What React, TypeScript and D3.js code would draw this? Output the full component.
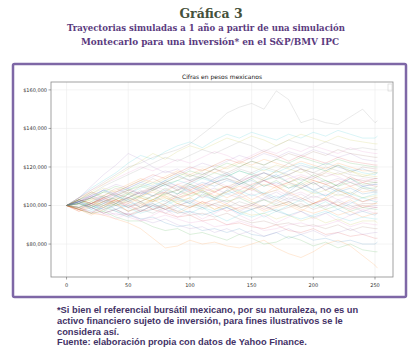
import React from "react";
import * as d3 from "d3";

// Trading days sampled along each simulated path
const DAYS = [0, 10, 20, 30, 40, 50, 60, 70, 80, 90, 100, 110, 120, 130, 140, 150, 160, 170, 180, 190, 200, 210, 220, 230, 240, 250, 252];

// Simulated paths, values in thousands of pesos
const P01 = [100, 101, 99, 96, 98, 95, 93, 94, 91, 89, 90, 87, 88, 86, 88, 85, 84, 86, 83, 85, 82, 83, 81, 82, 80, 80, 81];
const P02 = [100, 98, 96, 95, 93, 91, 88, 83, 78, 79, 82, 80, 81, 79, 78, 80, 82, 78, 75, 73, 76, 80, 82, 79, 74, 69, 67.5];
const P03 = [100, 98, 96, 97, 94, 92, 92, 89, 87, 88, 85, 86, 84, 82, 85, 83, 80, 81, 84, 82, 79, 81, 78, 80, 77, 76, 76];
const P04 = [100, 102, 104, 101, 103, 100, 97, 98, 96, 94, 95, 92, 93, 90, 91, 89, 88, 90, 87, 86, 88, 85, 86, 84, 85, 83, 83];
const P05 = [100, 99, 101, 98, 95, 96, 93, 91, 93, 90, 88, 89, 86, 88, 85, 87, 84, 86, 88, 85, 87, 84, 86, 88, 85, 86, 86];
const P06 = [100, 103, 101, 104, 102, 99, 101, 98, 100, 97, 95, 96, 94, 96, 93, 91, 92, 90, 91, 89, 90, 88, 90, 87, 89, 88, 88];
const P07 = [100, 98, 97, 95, 96, 94, 92, 93, 95, 93, 91, 92, 89, 90, 92, 90, 87, 88, 90, 91, 89, 90, 92, 89, 91, 90, 90];
const P08 = [100, 104, 108, 112, 116, 120, 122, 125, 127, 129, 132, 137, 142, 148, 151, 153, 150, 159.5, 155, 143, 145, 143, 142, 146, 150, 143, 144];
const P09 = [100, 101, 103, 105, 103, 106, 104, 102, 104, 101, 99, 101, 98, 100, 97, 95, 96, 93, 95, 92, 94, 91, 93, 90, 92, 92, 91];
const P10 = [100, 99, 97, 99, 101, 99, 96, 98, 100, 103, 101, 99, 97, 99, 96, 94, 96, 98, 95, 93, 95, 97, 94, 92, 94, 93, 93];
const P11 = [100, 102, 100, 98, 100, 97, 99, 101, 98, 96, 97, 95, 97, 99, 96, 98, 100, 97, 95, 97, 94, 96, 98, 95, 97, 95, 96];
const P12 = [100, 98, 100, 102, 104, 102, 105, 107, 104, 102, 104, 101, 103, 100, 98, 100, 97, 99, 101, 98, 96, 98, 95, 97, 94, 96, 96];
const P13 = [100, 101, 99, 102, 100, 103, 105, 103, 106, 108, 105, 107, 104, 102, 104, 101, 103, 100, 102, 99, 101, 98, 100, 97, 99, 98, 98];
const P14 = [100, 97, 99, 96, 98, 95, 97, 100, 98, 101, 99, 102, 100, 97, 99, 101, 98, 100, 102, 99, 101, 103, 100, 98, 100, 99, 99];
const P15 = [100, 103, 106, 104, 107, 109, 106, 108, 111, 108, 110, 107, 109, 106, 104, 106, 103, 105, 102, 104, 101, 103, 100, 102, 99, 100, 100];
const P16 = [100, 99, 101, 103, 100, 102, 99, 101, 98, 100, 102, 99, 101, 103, 100, 98, 100, 97, 99, 101, 98, 100, 102, 99, 101, 101, 102];
const P17 = [100, 102, 105, 103, 106, 104, 107, 110, 108, 111, 113, 110, 112, 109, 111, 108, 106, 108, 105, 107, 104, 106, 103, 105, 102, 103, 103];
const P18 = [100, 98, 96, 99, 97, 95, 98, 96, 99, 97, 100, 98, 101, 99, 102, 100, 103, 101, 104, 102, 105, 103, 106, 104, 102, 104, 104];
const P19 = [100, 101, 103, 100, 102, 104, 101, 103, 106, 104, 107, 105, 108, 110, 107, 109, 106, 108, 111, 109, 106, 108, 105, 107, 104, 105, 105];
const P20 = [100, 102, 99, 101, 98, 100, 102, 99, 101, 104, 102, 105, 103, 106, 108, 105, 107, 104, 106, 109, 107, 105, 108, 106, 104, 106, 106];
const P21 = [100, 103, 105, 108, 106, 109, 112, 110, 113, 116, 113, 115, 112, 114, 111, 113, 110, 112, 109, 111, 108, 110, 107, 109, 106, 107, 107];
const P22 = [100, 99, 102, 100, 103, 101, 104, 102, 105, 103, 106, 108, 105, 107, 110, 108, 111, 109, 112, 110, 113, 111, 108, 110, 107, 108, 108];
const P23 = [100, 102, 104, 107, 105, 108, 110, 108, 111, 113, 116, 114, 117, 115, 118, 116, 113, 115, 112, 114, 111, 113, 110, 112, 109, 109, 110];
const P24 = [100, 98, 101, 99, 102, 104, 102, 105, 107, 104, 106, 109, 107, 110, 108, 111, 113, 110, 112, 115, 113, 111, 113, 110, 112, 110, 110];
const P25 = [100, 104, 110, 116, 121, 127, 124, 120, 117, 119, 115, 117, 114, 116, 113, 115, 117, 114, 116, 113, 115, 112, 114, 112, 110, 111, 111];
const P26 = [100, 103, 101, 104, 106, 104, 107, 109, 106, 108, 111, 109, 112, 114, 112, 115, 117, 114, 116, 119, 117, 115, 117, 114, 113, 112, 112];
const P27 = [100, 102, 105, 103, 106, 108, 106, 109, 112, 110, 108, 111, 113, 110, 112, 115, 113, 111, 114, 116, 114, 117, 115, 112, 114, 113, 113];
const P28 = [100, 101, 99, 102, 104, 107, 105, 108, 111, 109, 112, 115, 113, 116, 119, 117, 120, 118, 116, 119, 117, 120, 118, 116, 115, 114, 114];
const P29 = [100, 103, 106, 109, 107, 110, 113, 111, 114, 117, 115, 118, 121, 119, 122, 120, 118, 121, 119, 117, 120, 118, 116, 118, 116, 115, 115];
const P30 = [100, 99, 102, 105, 103, 106, 109, 112, 110, 113, 111, 114, 112, 115, 118, 116, 119, 117, 120, 122, 120, 118, 121, 119, 117, 116, 117];
const P31 = [100, 102, 100, 103, 101, 104, 107, 105, 108, 106, 109, 112, 110, 113, 111, 114, 117, 115, 118, 121, 119, 122, 120, 118, 119, 117, 117];
const P32 = [100, 104, 107, 105, 108, 111, 114, 112, 115, 118, 116, 119, 117, 120, 123, 121, 124, 122, 120, 123, 121, 119, 122, 120, 118, 118, 118];
const P33 = [100, 101, 104, 107, 110, 108, 111, 109, 112, 115, 118, 116, 119, 122, 120, 123, 121, 124, 122, 125, 123, 121, 124, 122, 121, 120, 120];
const P34 = [100, 103, 101, 104, 107, 110, 113, 116, 114, 117, 120, 118, 121, 124, 122, 125, 128, 126, 123, 126, 124, 122, 125, 123, 122, 121, 121];
const P35 = [100, 102, 105, 108, 111, 109, 112, 115, 118, 116, 119, 122, 120, 123, 126, 124, 127, 125, 128, 126, 129, 127, 125, 127, 124, 123, 123];
const P36 = [100, 101, 104, 102, 105, 108, 106, 109, 112, 115, 113, 116, 119, 117, 120, 123, 121, 124, 127, 125, 128, 126, 129, 127, 126, 125, 125];
const P37 = [100, 104, 108, 111, 114, 117, 120, 118, 121, 124, 122, 125, 128, 126, 123, 126, 129, 127, 130, 128, 131, 129, 127, 130, 128, 127, 127];
const P38 = [100, 102, 106, 110, 113, 116, 119, 122, 125, 123, 126, 129, 127, 130, 133, 131, 128, 131, 134, 132, 130, 133, 131, 129, 130, 129, 129];
const P39 = [100, 103, 107, 111, 115, 119, 123, 127, 124, 128, 131, 129, 132, 135, 133, 136, 134, 131, 134, 137, 135, 133, 136, 134, 133, 132, 132];
const P40 = [100, 104, 109, 113, 117, 122, 126, 124, 128, 131, 133, 130, 134, 137, 135, 138, 136, 134, 137, 135, 138, 136, 139, 137, 135, 135, 136];
const P41 = [100, 102, 98, 101, 105, 103, 99, 102, 107, 104, 101, 106, 103, 108, 105, 110, 106, 103, 107, 112, 108, 105, 109, 106, 110, 108, 108];
const P42 = [100, 97, 100, 104, 101, 97, 99, 103, 100, 96, 99, 102, 98, 101, 105, 102, 99, 103, 100, 97, 101, 104, 100, 103, 99, 101, 101];
const P43 = [100, 103, 100, 97, 101, 106, 102, 105, 109, 106, 111, 108, 104, 107, 111, 114, 110, 113, 109, 112, 116, 113, 110, 114, 111, 112, 112];
const P44 = [100, 99, 96, 100, 103, 99, 102, 98, 101, 105, 108, 104, 107, 110, 106, 109, 113, 110, 106, 109, 112, 108, 111, 115, 112, 114, 114];
const P45 = [100, 101, 105, 102, 98, 101, 97, 100, 96, 99, 103, 100, 104, 101, 97, 100, 104, 107, 103, 106, 102, 99, 103, 100, 97, 99, 99];
const P46 = [100, 98, 101, 105, 109, 106, 110, 114, 111, 108, 112, 115, 119, 116, 113, 117, 114, 118, 122, 119, 115, 118, 121, 117, 120, 119, 119];
const P47 = [100, 102, 99, 96, 93, 96, 92, 95, 98, 94, 97, 93, 96, 99, 95, 92, 95, 91, 94, 97, 93, 96, 92, 95, 98, 96, 96];
const P48 = [100, 103, 107, 104, 101, 104, 108, 105, 102, 106, 110, 107, 104, 108, 112, 109, 105, 102, 106, 103, 107, 111, 108, 105, 109, 107, 107];
const P49 = [100, 99, 102, 99, 103, 107, 104, 108, 105, 101, 104, 108, 112, 109, 113, 110, 114, 118, 115, 111, 114, 117, 121, 118, 115, 117, 117];
const P50 = [100, 101, 98, 100, 97, 94, 97, 100, 103, 99, 96, 99, 95, 92, 95, 98, 94, 97, 100, 103, 99, 102, 98, 101, 104, 102, 102];
const P51 = [100, 102, 104, 108, 105, 102, 105, 109, 113, 110, 107, 110, 114, 117, 113, 110, 113, 116, 112, 109, 112, 108, 111, 114, 110, 111, 111];
const P52 = [100, 98, 95, 98, 101, 97, 100, 103, 107, 111, 108, 111, 107, 104, 107, 103, 106, 110, 107, 104, 101, 104, 108, 105, 102, 104, 104];

const PATHS = [P01, P02, P03, P04, P05, P06, P07, P08, P09, P10, P11, P12, P13, P14, P15, P16, P17, P18, P19, P20,
  P21, P22, P23, P24, P25, P26, P27, P28, P29, P30, P31, P32, P33, P34, P35, P36, P37, P38, P39, P40,
  P41, P42, P43, P44, P45, P46, P47, P48, P49, P50, P51, P52];

const COLORS = ["#1f77b4", "#ff7f0e", "#2ca02c", "#d62728", "#9467bd", "#8c564b", "#e377c2", "#7f7f7f", "#bcbd22", "#17becf"];

const X_TICKS = [0, 50, 100, 150, 200, 250];
const Y_TICKS = [80, 100, 120, 140, 160];

const TITLE = "Gráfica 3";
const SUBTITLE = ["Trayectorias simuladas a 1 año a partir de una simulación", "Montecarlo para una inversión* en el S&P/BMV IPC"];
const CHART_TITLE = "Cifras en pesos mexicanos";
const NOTES = [
  "*Si bien el referencial bursátil mexicano, por su naturaleza, no es un",
  "activo financiero sujeto de inversión, para fines ilustrativos se le",
  "considera así.",
  "Fuente: elaboración propia con datos de Yahoo Finance.",
];

const W = 420, H = 355;
const PL = 51, PR = 393, PT = 82, PB = 277;

export default function App() {
  const dMin = d3.min(DAYS)!, dMax = d3.max(DAYS)!;
  const dPad = (dMax - dMin) * 0.05;
  const x = d3.scaleLinear().domain([dMin - dPad, dMax + dPad]).range([PL, PR]);
  const vMin = d3.min(PATHS, (p) => d3.min(p)!)!;
  const vMax = d3.max(PATHS, (p) => d3.max(p)!)!;
  const vPad = (vMax - vMin) * 0.05;
  const y = d3.scaleLinear().domain([vMin - vPad, vMax + vPad]).range([PB, PT]);
  const line = d3.line<number>().x((_, i) => x(DAYS[i])).y((v) => y(v));
  const fmt = (v: number) => "$" + d3.format(",")(v * 1000);

  return (
    <svg width={W} height={H} style={{ position: "absolute", left: 0, top: 0, background: "#fff" }}>
      <text x={211} y={18} textAnchor="middle" fontFamily="'DejaVu Serif', serif" fontWeight="bold" fontSize={12.5} fill="#45513b">{TITLE}</text>
      <text x={67} y={31} fontFamily="'DejaVu Serif', serif" fontWeight="bold" fontSize={9.6} fill="#5a3a7e" textLength={278} lengthAdjust="spacingAndGlyphs">{SUBTITLE[0]}</text>
      <text x={81} y={44.5} fontFamily="'DejaVu Serif', serif" fontWeight="bold" fontSize={9.6} fill="#5a3a7e" textLength={258} lengthAdjust="spacingAndGlyphs">{SUBTITLE[1]}</text>
      <rect x={13} y={64} width={393} height={233} fill="#fff" stroke="#7e67a6" strokeWidth={2.5} rx={1.5} />
      <text x={(PL + PR) / 2} y={78.5} textAnchor="middle" fontFamily="'DejaVu Sans', sans-serif" fontSize={6} fill="#111">{CHART_TITLE}</text>
      {/* grid */}
      {X_TICKS.map((t) => (
        <line key={"gx" + t} x1={x(t)} x2={x(t)} y1={PT} y2={PB} stroke="#ececec" strokeWidth={0.6} />
      ))}
      {Y_TICKS.map((t) => (
        <line key={"gy" + t} x1={PL} x2={PR} y1={y(t)} y2={y(t)} stroke="#ececec" strokeWidth={0.6} />
      ))}
      {/* paths */}
      <g fill="none" strokeWidth={0.6} strokeOpacity={0.27} strokeLinejoin="round">
        {PATHS.map((p, i) => (
          <path key={i} d={line(p)!} stroke={COLORS[i % COLORS.length]} />
        ))}
      </g>
      {/* spines */}
      <rect x={PL} y={PT} width={PR - PL} height={PB - PT} fill="none" stroke="#8a8a8a" strokeWidth={0.8} />
      <rect x={PR - 5} y={PT + 2} width={4} height={7} fill="none" stroke="#cfcfcf" strokeWidth={0.6} />
      {/* axes */}
      {X_TICKS.map((t) => (
        <g key={"xt" + t}>
          <line x1={x(t)} x2={x(t)} y1={PB} y2={PB + 2.5} stroke="#666" strokeWidth={0.6} />
          <text x={x(t)} y={PB + 9.5} textAnchor="middle" fontFamily="'DejaVu Sans', sans-serif" fontSize={5} fill="#333">{t}</text>
        </g>
      ))}
      {Y_TICKS.map((t) => (
        <g key={"yt" + t}>
          <line x1={PL - 2.5} x2={PL} y1={y(t)} y2={y(t)} stroke="#666" strokeWidth={0.6} />
          <text x={PL - 4} y={y(t) + 1.8} textAnchor="end" fontFamily="'DejaVu Sans', sans-serif" fontSize={5} fill="#333">{fmt(t)}</text>
        </g>
      ))}
      {NOTES.map((s, i) => (
        <text key={"n" + i} x={57} y={313 + i * 10.8} fontFamily="'Liberation Sans', Arial, sans-serif" fontWeight="bold" fontSize={9.3} fill="#433266">{s}</text>
      ))}
    </svg>
  );
}
